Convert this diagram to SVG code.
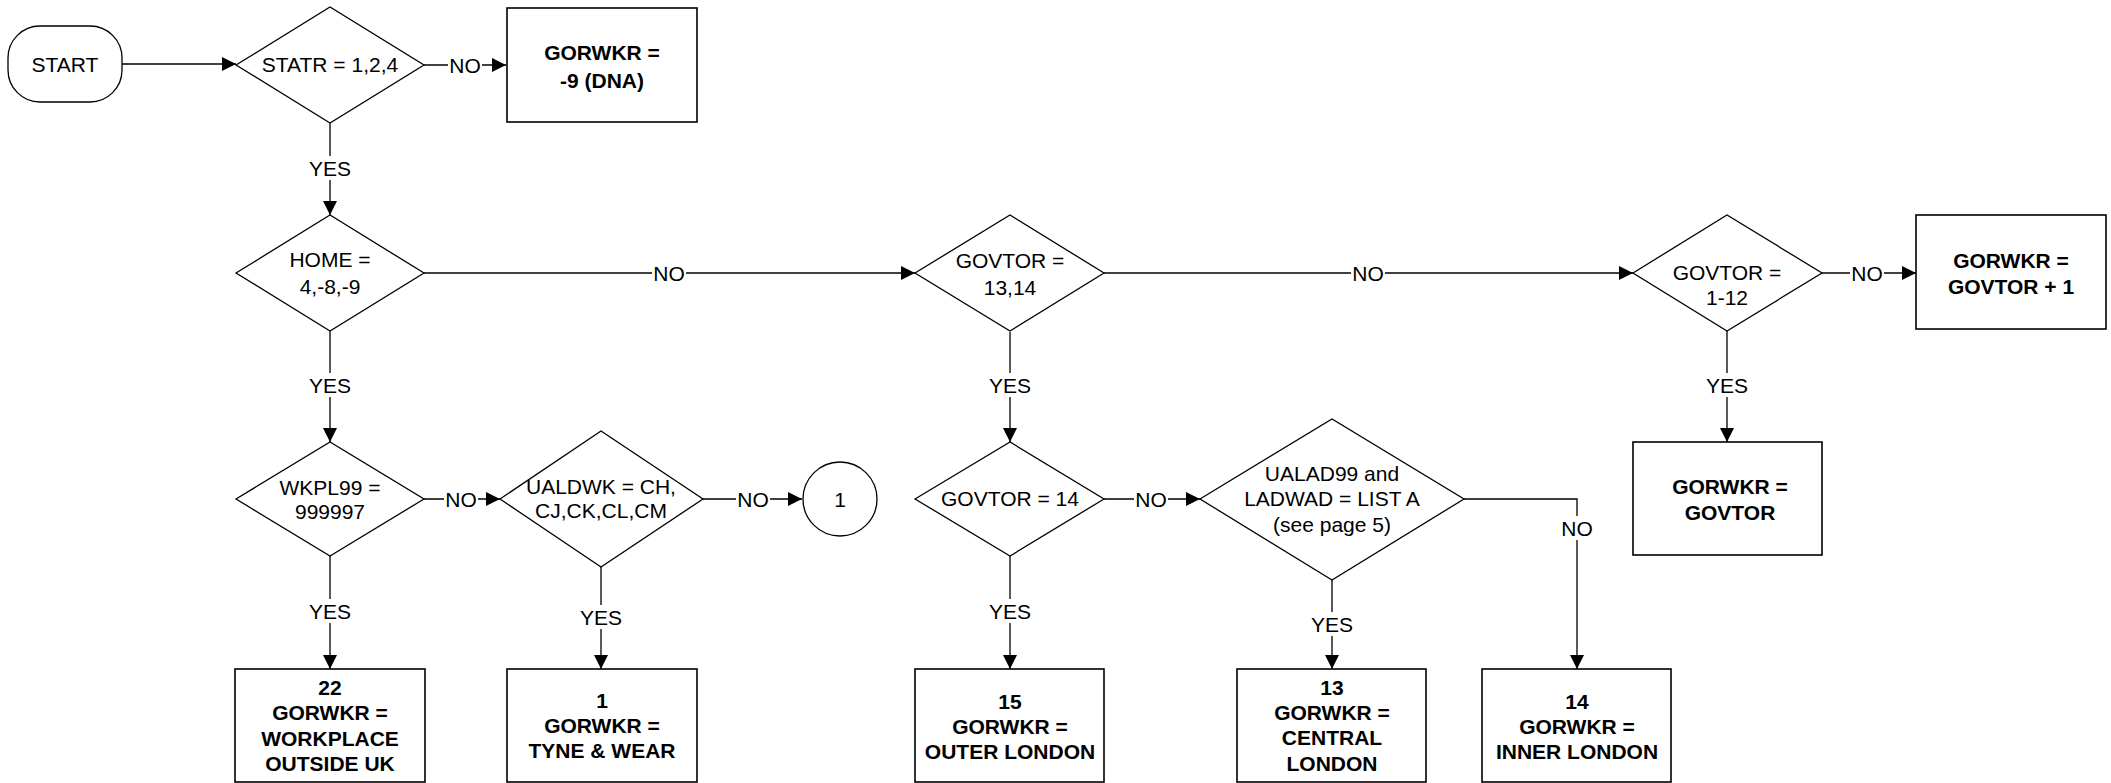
<svg xmlns="http://www.w3.org/2000/svg" width="2111" height="783" viewBox="0 0 2111 783">
<defs>
<marker id="arr" markerUnits="userSpaceOnUse" markerWidth="15" markerHeight="14" refX="14" refY="7" orient="auto">
<path d="M0,0 L14,7 L0,14 z" fill="#000"/>
</marker>
<style>
.shape{fill:#fff;stroke:#000;stroke-width:1.3}
.box{fill:#fff;stroke:#000;stroke-width:1.6}
.c{fill:none;stroke:#000;stroke-width:1.3}
.t{font-family:"Liberation Sans",Arial,sans-serif;font-size:21px;text-anchor:middle;fill:#000}
.b{font-weight:bold}
.bg{fill:#fff;stroke:none}
.lbl{font-family:"Liberation Sans",Arial,sans-serif;font-size:21px;text-anchor:middle;fill:#000}
</style>
</defs>
<rect width="2111" height="783" fill="#fff"/>

<g id="connectors">
<path class="c" d="M122,64 H236" marker-end="url(#arr)"/>
<path class="c" d="M424,65 H506" marker-end="url(#arr)"/>
<path class="c" d="M330,123 V215" marker-end="url(#arr)"/>
<path class="c" d="M424,273 H915" marker-end="url(#arr)"/>
<path class="c" d="M1104,273 H1633" marker-end="url(#arr)"/>
<path class="c" d="M1822,273 H1916" marker-end="url(#arr)"/>
<path class="c" d="M1727,331 V442" marker-end="url(#arr)"/>
<path class="c" d="M330,331 V442" marker-end="url(#arr)"/>
<path class="c" d="M424,499 H500" marker-end="url(#arr)"/>
<path class="c" d="M703,499 H802" marker-end="url(#arr)"/>
<path class="c" d="M601,567 V669" marker-end="url(#arr)"/>
<path class="c" d="M330,556 V669" marker-end="url(#arr)"/>
<path class="c" d="M1010,332 V442" marker-end="url(#arr)"/>
<path class="c" d="M1010,556 V669" marker-end="url(#arr)"/>
<path class="c" d="M1104,499 H1200" marker-end="url(#arr)"/>
<path class="c" d="M1332,580 V669" marker-end="url(#arr)"/>
<path class="c" d="M1464,499 H1577 V669" marker-end="url(#arr)"/>

<rect class="bg" x="448" y="56" width="34" height="18"/>
<text class="lbl" x="465" y="72.5">NO</text>
<rect class="bg" x="307" y="156" width="46" height="24"/>
<text class="lbl" x="330" y="175.5">YES</text>
<rect class="bg" x="652" y="264" width="34" height="18"/>
<text class="lbl" x="669" y="280.5">NO</text>
<rect class="bg" x="1351" y="264" width="34" height="18"/>
<text class="lbl" x="1368" y="280.5">NO</text>
<rect class="bg" x="1850" y="264" width="34" height="18"/>
<text class="lbl" x="1867" y="280.5">NO</text>
<rect class="bg" x="1704" y="373" width="46" height="24"/>
<text class="lbl" x="1727" y="392.5">YES</text>
<rect class="bg" x="307" y="373" width="46" height="24"/>
<text class="lbl" x="330" y="392.5">YES</text>
<rect class="bg" x="987" y="373" width="46" height="24"/>
<text class="lbl" x="1010" y="392.5">YES</text>
<rect class="bg" x="444" y="490" width="34" height="18"/>
<text class="lbl" x="461" y="506.5">NO</text>
<rect class="bg" x="736" y="490" width="34" height="18"/>
<text class="lbl" x="753" y="506.5">NO</text>
<rect class="bg" x="1134" y="490" width="34" height="18"/>
<text class="lbl" x="1151" y="506.5">NO</text>
<rect class="bg" x="1560" y="516" width="34" height="24"/>
<text class="lbl" x="1577" y="535.5">NO</text>
<rect class="bg" x="307" y="599" width="46" height="24"/>
<text class="lbl" x="330" y="618.5">YES</text>
<rect class="bg" x="578" y="605" width="46" height="24"/>
<text class="lbl" x="601" y="624.5">YES</text>
<rect class="bg" x="987" y="599" width="46" height="24"/>
<text class="lbl" x="1010" y="618.5">YES</text>
<rect class="bg" x="1309" y="612" width="46" height="24"/>
<text class="lbl" x="1332" y="631.5">YES</text>
</g>

<g id="start">
<rect class="shape" x="8" y="26" width="114" height="76" rx="32" ry="32"/>
<text class="t" x="65" y="71.5">START</text>
</g>

<g id="statr">
<polygon class="shape" points="236,65 330,7 424,65 330,123"/>
<text class="t" x="330" y="72">STATR = 1,2,4</text>
</g>

<g id="dna">
<rect class="box" x="507" y="8" width="190" height="114"/>
<text class="t b" x="602" y="59.5">GORWKR =</text>
<text class="t b" x="602" y="87.5">-9 (DNA)</text>
</g>

<g id="home">
<polygon class="shape" points="236,273 330,215 424,273 330,331"/>
<text class="t" x="330" y="266.5">HOME =</text>
<text class="t" x="330" y="293.5">4,-8,-9</text>
</g>

<g id="govtor1314">
<polygon class="shape" points="915,273 1010,215 1104,273 1010,331"/>
<text class="t" x="1010" y="267.5">GOVTOR =</text>
<text class="t" x="1010" y="294.5">13,14</text>
</g>

<g id="govtor112">
<polygon class="shape" points="1633,273 1727,215 1822,273 1727,331"/>
<text class="t" x="1727" y="279.5">GOVTOR =</text>
<text class="t" x="1727" y="304.5">1-12</text>
</g>

<g id="govtorplus1">
<rect class="box" x="1916" y="215" width="190" height="114"/>
<text class="t b" x="2011" y="267.5">GORWKR =</text>
<text class="t b" x="2011" y="293.5">GOVTOR + 1</text>
</g>

<g id="govtorbox">
<rect class="box" x="1633" y="442" width="189" height="113"/>
<text class="t b" x="1730" y="493.5">GORWKR =</text>
<text class="t b" x="1730" y="519.5">GOVTOR</text>
</g>

<g id="wkpl99">
<polygon class="shape" points="236,499 330,442 424,499 330,556"/>
<text class="t" x="330" y="494.5">WKPL99 =</text>
<text class="t" x="330" y="518.5">999997</text>
</g>

<g id="ualdwk">
<polygon class="shape" points="500,499 601,431 703,499 601,567"/>
<text class="t" x="601" y="493.5">UALDWK = CH,</text>
<text class="t" x="601" y="517.5">CJ,CK,CL,CM</text>
</g>

<g id="conn1">
<circle class="shape" cx="840" cy="499" r="37"/>
<text class="t" x="840" y="506.5">1</text>
</g>

<g id="box22">
<rect class="box" x="235" y="669" width="190" height="113"/>
<text class="t b" x="330" y="694.5">22</text>
<text class="t b" x="330" y="719.5">GORWKR =</text>
<text class="t b" x="330" y="745.5">WORKPLACE</text>
<text class="t b" x="330" y="770.5">OUTSIDE UK</text>
</g>

<g id="box1">
<rect class="box" x="507" y="669" width="190" height="113"/>
<text class="t b" x="602" y="708">1</text>
<text class="t b" x="602" y="733">GORWKR =</text>
<text class="t b" x="602" y="758">TYNE &amp; WEAR</text>
</g>

<g id="govtor14">
<polygon class="shape" points="915,499 1010,442 1104,499 1010,556"/>
<text class="t" x="1010" y="505.5">GOVTOR = 14</text>
</g>

<g id="ualad99">
<polygon class="shape" points="1200,499 1332,419 1464,499 1332,580"/>
<text class="t" x="1332" y="480.5">UALAD99 and</text>
<text class="t" x="1332" y="505.5">LADWAD = LIST A</text>
<text class="t" x="1332" y="531.5">(see page 5)</text>
</g>

<g id="box15">
<rect class="box" x="915" y="669" width="189" height="113"/>
<text class="t b" x="1010" y="708.5">15</text>
<text class="t b" x="1010" y="733.5">GORWKR =</text>
<text class="t b" x="1010" y="758.5">OUTER LONDON</text>
</g>

<g id="box13">
<rect class="box" x="1237" y="669" width="189" height="113"/>
<text class="t b" x="1332" y="694.5">13</text>
<text class="t b" x="1332" y="719.5">GORWKR =</text>
<text class="t b" x="1332" y="744.5">CENTRAL</text>
<text class="t b" x="1332" y="770.5">LONDON</text>
</g>

<g id="box14">
<rect class="box" x="1482" y="669" width="189" height="113"/>
<text class="t b" x="1577" y="708.5">14</text>
<text class="t b" x="1577" y="733.5">GORWKR =</text>
<text class="t b" x="1577" y="758.5">INNER LONDON</text>
</g>
</svg>
